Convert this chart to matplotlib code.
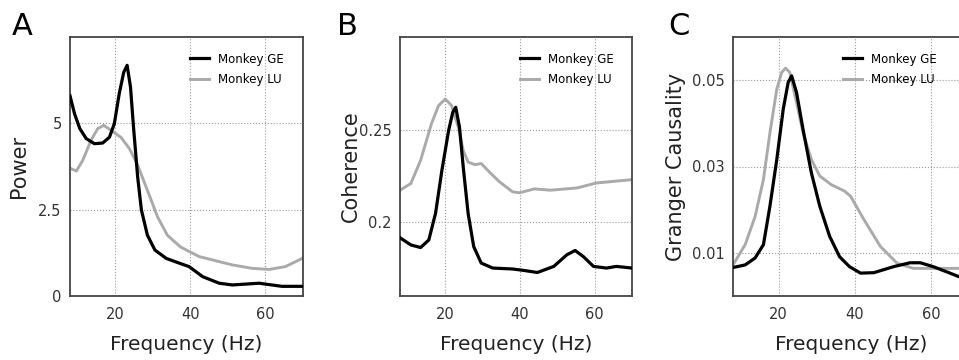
import matplotlib
matplotlib.use('Agg')
import matplotlib.pyplot as plt

# panel A: power
freq_a_ge = [8, 9.2, 10.6, 12.3, 14.5, 16.7, 18.5, 19.8, 21.1, 22.3, 23.2, 24.1, 24.9, 26,
             27, 28.6, 30.6, 33.6, 37.1, 39.7, 43.3, 47.7, 51.2, 58.3, 64.4, 70]
pow_ge = [5.8, 5.28, 4.85, 4.56, 4.41, 4.43, 4.6, 4.99, 5.86, 6.48, 6.68, 6.05, 4.89, 3.45,
          2.49, 1.76, 1.33, 1.09, 0.95, 0.85, 0.56, 0.37, 0.32, 0.37, 0.28, 0.28]
freq_a_lu = [8, 9.7, 11.4, 13.6, 15.4, 17, 18.9, 21.6, 23.8, 26, 28.6, 31.3, 33.9, 37.4,
             42.4, 51.2, 56.5, 61, 65.3, 70]
pow_lu = [3.7, 3.62, 3.93, 4.51, 4.85, 4.94, 4.8, 4.59, 4.27, 3.79, 3.06, 2.29, 1.76, 1.42,
          1.14, 0.90, 0.80, 0.77, 0.85, 1.1]

# panel B: coherence
freq_b_ge = [8, 10.9, 13.5, 15.7, 17.5, 19.2, 21, 22.1, 22.9, 23.9, 24.9, 26.2, 27.7, 29.7,
             32.8, 38.1, 41.2, 44.7, 49.1, 52.6, 54.8, 57, 59.7, 63.2, 65.8, 70]
coh_ge = [0.1915, 0.1876, 0.1862, 0.1903, 0.2047, 0.228, 0.2495, 0.2593, 0.262, 0.2512,
          0.2297, 0.2047, 0.1867, 0.1778, 0.1751, 0.1746, 0.1738, 0.1727, 0.176, 0.1823,
          0.1846, 0.1813, 0.176, 0.1751, 0.176, 0.1751]
freq_b_lu = [8, 10.9, 13.5, 16.4, 18.3, 20.1, 21.8, 23.6, 24.9, 26.2, 28, 29.7, 31.9, 34.6,
             38.1, 40, 43.9, 48.2, 55.3, 60.5, 70]
coh_lu = [0.2172, 0.2208, 0.2333, 0.2531, 0.2629, 0.2665, 0.2629, 0.2512, 0.2387, 0.2324,
          0.231, 0.2316, 0.227, 0.2217, 0.2163, 0.2158, 0.2179, 0.2172, 0.2184, 0.2211, 0.2229]

# panel C: granger causality
freq_c_ge = [8, 11.2, 13.8, 16, 17.7, 19.5, 21.2, 22.5, 23.4, 24.7, 26.4, 28.6, 30.8, 33.4,
             36, 38.6, 41.5, 45, 50.2, 54.5, 57.2, 60.6, 65, 67.3, 70]
gc_ge = [0.0066, 0.0072, 0.0088, 0.0119, 0.0208, 0.0316, 0.0433, 0.0495, 0.051, 0.0471,
         0.0386, 0.0285, 0.0208, 0.0138, 0.0091, 0.0068, 0.0053, 0.0054, 0.0068, 0.0077,
         0.0077, 0.0068, 0.0053, 0.0045, 0.0040]
freq_c_lu = [8, 11.2, 13.8, 16, 17.7, 19.5, 20.8, 21.8, 22.9, 24.7, 26.4, 28.6, 30.8, 33.8,
             37.3, 38.9, 42.4, 46.7, 51.1, 55.4, 60.6, 70]
gc_lu = [0.0072, 0.0119, 0.0184, 0.027, 0.0378, 0.0479, 0.0518, 0.0528, 0.0518, 0.0448,
         0.0378, 0.0316, 0.0278, 0.0258, 0.0243, 0.0231, 0.0177, 0.0115, 0.0076, 0.0064,
         0.0064, 0.0064]

labels = 'Monkey GE', 'Monkey LU'
xticks = [20, 40, 60]

# letter, ylabel, left px, width px, ylim, yticks, yticklabels, data, ylabel x px, legend x
panels = [
    ('A', 'Power', 70, 233, (0, 7.5), [0, 2.5, 5], ['0', '2.5', '5'],
     freq_a_ge, pow_ge, freq_a_lu, pow_lu, 19, 12, 0.515),
    ('B', 'Coherence', 400, 232, (0.16, 0.3), [0.2, 0.25], ['0.2', '0.25'],
     freq_b_ge, coh_ge, freq_b_lu, coh_lu, 351, 337, 0.517),
    ('C', 'Granger Causality', 733, 236, (0, 0.06), [0.01, 0.03, 0.05], ['0.01', '0.03', '0.05'],
     freq_c_ge, gc_ge, freq_c_lu, gc_lu, 676, 668, 0.466),
]

W, H = 959, 360
fig = plt.figure(figsize=(W / 100, H / 100), dpi=100)
for (letter, ylab, left, width, ylim, yt, ytl, fx1, y1, fx2, y2,
     ylab_x, let_x, leg_x) in panels:
    ax = fig.add_axes([left / W, 64 / H, width / W, 259 / H])
    ax.plot(fx1, y1, color='black', lw=2.3, label=labels[0], zorder=3,
            solid_joinstyle='round')
    ax.plot(fx2, y2, color='#aaaaaa', lw=2.1, label=labels[1], zorder=2,
            solid_joinstyle='round')
    ax.set_xlim(8, 70)
    ax.set_ylim(*ylim)
    ax.set_xticks(xticks)
    ax.set_yticks(yt)
    ax.set_yticklabels(ytl)
    ax.tick_params(length=0, labelsize=10.5, colors='#333333')
    ax.tick_params(axis='x', pad=8)
    ax.tick_params(axis='y', pad=6)
    ax.grid(True, ls=':', color='#999999', lw=0.8)
    for s in ax.spines.values():
        s.set_color('#444444')
        s.set_linewidth(1.3)
    ax.set_xlabel('Frequency (Hz)', fontsize=14.5, color='#222222', va='center')
    ax.xaxis.set_label_coords(0.5, -49 / 259)
    ax.set_ylabel(ylab, fontsize=15, color='#222222', va='center')
    ax.yaxis.set_label_coords((ylab_x - left) / width, 0.5)
    ax.legend(loc='upper left', bbox_to_anchor=(leg_x, 0.94), frameon=False,
              borderaxespad=0, borderpad=0, fontsize=8.5, handlelength=1.6,
              handletextpad=0.8, labelspacing=0.65)
    fig.text(let_x / W, 1 - 35 / H, letter, fontsize=22, va='baseline')

fig.savefig('out.png', dpi=100)
